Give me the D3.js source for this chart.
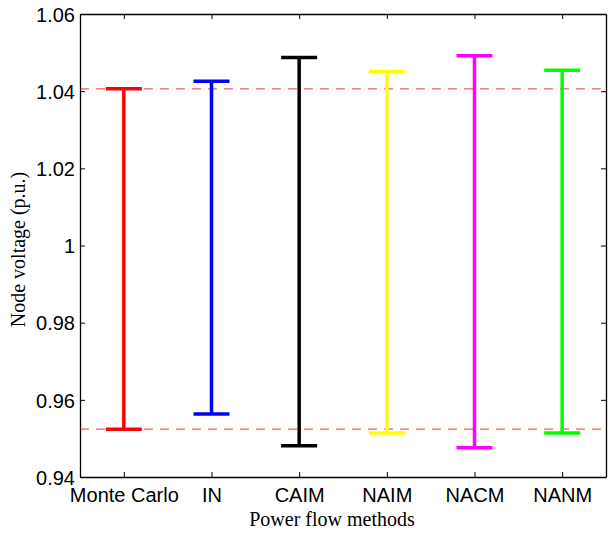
<!DOCTYPE html>
<html>
<head>
<meta charset="utf-8">
<script src="https://cdn.jsdelivr.net/npm/d3@7"></script>
<style>
  body { margin: 0; background: #fff; }
  svg { display: block; }
  .tick text { font-family: "Liberation Sans", Arial, sans-serif; font-size: 20px; fill: #000; }
</style>
</head>
<body>
<div id="chart"></div>
<script>
// data
const methods = ["Monte Carlo", "IN", "CAIM", "NAIM", "NACM", "NANM"];
const lowVals = [0.9524, 0.9563, 0.9481, 0.9514, 0.9476, 0.9514];
const highVals = [1.0406, 1.0426, 1.0487, 1.0451, 1.0492, 1.0454];
const colors = ["#ff0000", "#0000ff", "#000000", "#ffff00", "#ff00ff", "#00ff00"];
const refLines = [1.0406, 0.9524];
const yTicks = [0.94, 0.96, 0.98, 1, 1.02, 1.04, 1.06];

const W = 608, H = 533, m = { t: 14, r: 2, b: 56, l: 80 };
const iw = W - m.l - m.r, ih = H - m.t - m.b;

const svg = d3.select("#chart").append("svg")
  .attr("width", W).attr("height", H);

const g = svg.append("g").attr("transform", `translate(${m.l},${m.t})`);

const x = d3.scalePoint().domain(methods).range([0, iw]).padding(0.5);
const y = d3.scaleLinear().domain([0.94, 1.06]).range([ih, 0]);

const fmt = d => d === 1 ? "1" : d3.format(".2f")(d);

// axes (MATLAB style box, ticks inside)
const ax = g.append("g").attr("transform", `translate(0,${ih})`)
  .call(d3.axisBottom(x).tickSizeInner(-5).tickSizeOuter(0).tickPadding(11));
const axTop = g.append("g")
  .call(d3.axisTop(x).tickSizeInner(-5).tickSizeOuter(0).tickFormat(""));
const ayL = g.append("g")
  .call(d3.axisLeft(y).tickValues(yTicks).tickFormat(fmt).tickSizeInner(-5).tickSizeOuter(0).tickPadding(5));
const ayR = g.append("g").attr("transform", `translate(${iw},0)`)
  .call(d3.axisRight(y).tickValues(yTicks).tickFormat("").tickSizeInner(-5).tickSizeOuter(0));

[ax, axTop, ayL, ayR].forEach(a => {
  a.select(".domain").attr("stroke", "#000").attr("stroke-width", 1.3);
  a.selectAll(".tick line").attr("stroke", "#000").attr("stroke-width", 1);
});
ayL.selectAll(".tick text").attr("dy", "0.36em");

// reference dashed lines
g.selectAll(".ref")
  .data(refLines)
  .join("line")
  .attr("class", "ref")
  .attr("x1", 0).attr("x2", iw)
  .attr("y1", d => y(d)).attr("y2", d => y(d))
  .attr("stroke", "#ff0000")
  .attr("stroke-opacity", 0.65)
  .attr("stroke-width", 1.2)
  .attr("stroke-dasharray", "9,7");

// error-bar style ranges
const capW = 36;
const bars = g.selectAll(".bar")
  .data(methods.map((d, i) => ({ name: d, lo: lowVals[i], hi: highVals[i], c: colors[i] })))
  .join("g")
  .attr("class", "bar");

bars.append("line")
  .attr("x1", d => x(d.name)).attr("x2", d => x(d.name))
  .attr("y1", d => y(d.lo)).attr("y2", d => y(d.hi))
  .attr("stroke", d => d.c).attr("stroke-width", 3.5);

bars.selectAll(".cap")
  .data(d => [{ v: d.lo, d }, { v: d.hi, d }])
  .join("line")
  .attr("class", "cap")
  .attr("x1", e => x(e.d.name) - capW / 2).attr("x2", e => x(e.d.name) + capW / 2)
  .attr("y1", e => y(e.v)).attr("y2", e => y(e.v))
  .attr("stroke", e => e.d.c).attr("stroke-width", 3.5);

// axis labels
svg.append("text")
  .attr("x", 332).attr("y", 526)
  .attr("text-anchor", "middle")
  .attr("font-family", "'Liberation Serif', 'Times New Roman', serif")
  .attr("font-size", 20)
  .text("Power flow methods");

svg.append("text")
  .attr("transform", `translate(25, ${m.t + ih / 2 + 4}) rotate(-90)`)
  .attr("text-anchor", "middle")
  .attr("font-family", "'Liberation Serif', 'Times New Roman', serif")
  .attr("font-size", 20)
  .text("Node voltage (p.u.)");
</script>
</body>
</html>
